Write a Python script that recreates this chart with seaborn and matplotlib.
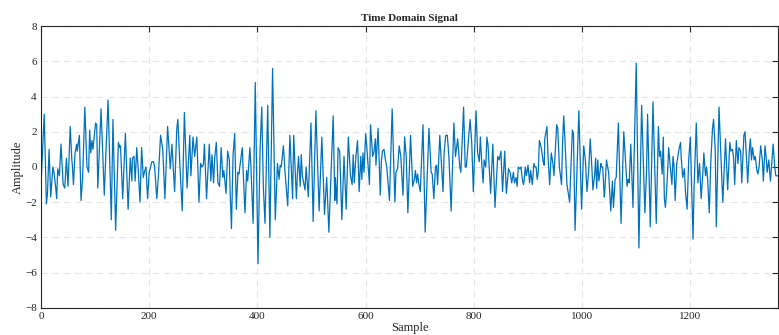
import numpy as np
import pandas as pd
import matplotlib
matplotlib.use("Agg")
import matplotlib.pyplot as plt
import seaborn as sns

# peaks / troughs (sample index, amplitude)
sample = [
    0, 6, 10, 12, 15, 18, 22, 24, 27, 29, 31, 34, 37, 41, 44, 47, 50, 54, 57, 58,
    60, 63, 66, 67, 71, 74, 77, 81, 85, 88, 90, 92, 94, 96, 101, 103, 105, 111,
    117, 120, 124, 130, 133, 138, 143, 146, 147, 151, 156, 161, 165, 168, 169, 172,
    174, 177, 180, 183, 186, 189, 191, 194, 197, 200, 205, 208, 210, 214, 217, 221, 225,
    229, 234, 239, 242, 247, 251, 253, 254, 257, 261, 265, 270, 275, 277, 281, 284,
    288, 289, 292, 295, 297, 300, 302, 306, 311, 314, 316, 319, 321, 324, 327, 330,
    333, 336, 338,
    342, 345, 348, 350, 352, 355, 358, 361, 364, 366, 367, 372, 374, 377, 380, 382,
    386, 388, 392, 396, 401, 405, 408, 411, 414, 419, 423, 428, 433, 437, 440, 442,
    444, 448, 451,
    456, 460, 465, 467, 472, 474, 476, 479, 481, 483, 488, 490, 494, 499, 503, 508,
    514, 519, 524, 528, 532, 540, 543, 544, 547, 549, 552, 556, 560, 564, 568,
    572, 575, 577, 579, 582, 585, 588, 591, 593, 595, 597, 600, 602, 607, 609, 613,
    615, 618, 619, 623, 627, 629, 631, 634, 636, 639, 644, 649, 654, 656, 659, 662,
    665, 669, 672, 675, 678, 683,
    687, 690, 692, 694, 696, 698, 701, 706, 710, 717, 721, 723, 726, 729, 731, 733,
    737, 740, 743, 745, 748, 751, 754, 758, 763, 766, 770, 774, 776, 781, 784, 786,
    793, 796, 799,
    804, 807, 810, 812, 815, 817, 819, 822, 824, 826, 831, 835, 839, 844, 847, 850,
    853, 857, 860, 864, 867, 870, 873, 875, 878, 880, 882, 885, 887, 890, 892, 895,
    897, 900, 903, 905, 908, 911, 913,
    915, 917, 919, 921, 923, 925, 928, 930, 931, 935, 937, 940, 943, 946, 948, 953,
    955, 958, 962, 964, 966, 968, 972, 973, 977, 980, 982, 984, 987, 994, 999, 1003,
    1006, 1009, 1012, 1015, 1018, 1020, 1023, 1025,
    1027, 1029, 1031, 1035, 1036, 1038, 1041, 1042, 1045, 1049, 1053, 1056, 1058,
    1061, 1063, 1067, 1072, 1077, 1079, 1083, 1085, 1087, 1090, 1094, 1100, 1105,
    1110, 1116, 1119, 1121, 1126, 1131, 1137, 1141,
    1143, 1145, 1148, 1150, 1152, 1154, 1157, 1160, 1163, 1166, 1168, 1170, 1172,
    1175, 1179, 1182, 1183, 1186, 1189, 1191, 1194, 1197, 1200, 1205, 1207, 1211,
    1214, 1217, 1220, 1223, 1225, 1228, 1230, 1232, 1235, 1238, 1241, 1243, 1246,
    1248, 1253, 1256,
    1260, 1265, 1269, 1273, 1275, 1278, 1280, 1282, 1285, 1288, 1290, 1293, 1295,
    1299, 1301, 1304, 1306, 1309, 1311, 1313, 1315, 1318, 1320, 1323, 1325, 1327,
    1330, 1333, 1335, 1338, 1340, 1342, 1345, 1348, 1350, 1353, 1356, 1358, 1362,
]
amplitude = [
    -1.1, 3.0, -2.1, -1.5, 1.0, -1.7, 0.0, -0.3, -1.1, -1.8, -0.1, -0.5, 1.3, -1.0, -1.2, 0.5, -1.1, 2.3, 0.4, 0.1,
    -1.0, 0.8, 1.3, 0.9, 1.8, -1.9, -0.6, 3.4, 0.0, -0.3, 2.1, 0.8, 1.5, 1.0, 2.5, 2.4, -1.2, 3.3,
    -1.6, 0.8, 3.8, -3.0, 2.7, -3.6, 1.4, 1.1, 1.2, -1.8, 1.9, -2.4, 0.5, -0.8, 0.5, 0.6,
    -0.8, 1.1, -0.3, -2.0, 1.1, -0.6, -0.3, 0.0, -1.8, -0.3, 0.3, 0.3, 0.0, -1.8, -0.5, 1.8, 1.0,
    -1.8, 2.3, -0.1, 1.3, -1.4, 2.2, 2.7, 2.0, -0.1, -2.5, 3.1, -1.2, 1.8, -0.5, 1.7, 0.6,
    1.7, 0.8, -2.0, 0.2, 0.0, 0.1, 1.3, -1.8, 1.3, -0.8, 0.7, -0.9, 0.5, 1.4, -0.9, -1.1,
    1.1, -0.6, -0.2,
    -1.5, 0.9, 0.4, -1.8, -3.5, 0.7, 1.9, -2.4, -0.3, -0.4, -0.1, 1.1, -0.5, -2.6, -0.2, -0.8,
    1.1, 0.0, -3.2, 4.8, -5.5, 1.1, 3.4, -1.2, -3.2, 3.5, -4.0, 5.6, -3.0, 0.2, -0.7, 0.1,
    0.0, 1.2, -0.3,
    -2.2, 1.8, -1.8, 1.8, -1.8, -0.3, 0.6, -1.1, 0.7, -0.5, -1.3, 0.0, -1.7, 2.5, -3.1, 3.2,
    -2.5, 1.7, -2.7, -0.6, -3.7, 2.9, -1.9, -0.6, -2.1, 1.1, 0.9, -3.0, 0.6, -2.4, 1.7,
    -0.5, -1.0, 0.7, -0.9, 0.6, 1.5, -1.4, 0.6, -0.7, 0.8, -0.3, 1.9, 1.2, -1.0, 2.4, 0.6,
    0.8, 1.6, 0.1, 2.2, -1.6, 0.3, 0.9, 1.0, 0.5, 0.0, -1.9, 3.3, -2.0, -0.3, -0.1, 1.2,
    0.6, -1.6, 1.7, 0.6, -2.6, 1.8,
    -1.1, -0.7, -0.2, -0.9, -0.4, -0.9, -1.4, 2.4, -3.7, 2.2, -0.3, -0.4, -1.8, 0.0, 0.1, -1.0,
    1.8, 0.2, -1.4, 0.8, 1.8, 1.8, 0.5, -2.5, 2.5, 0.6, 1.6, 0.0, -0.3, 3.4, 0.0, 0.0,
    2.7, 1.4, -1.4,
    3.2, 0.8, 0.3, 1.7, 0.0, -0.9, 0.4, 0.0, 1.7, 1.3, -1.5, 1.3, -2.3, 0.6, 0.4, 0.9,
    -1.4, 0.9, -1.5, -0.1, -0.3, -0.9, -0.3, -0.9, -0.6, -1.1, 0.0, -0.1, 0.0, -0.8, -1.0, 0.0,
    -0.5, 0.1, -0.9, -0.2, -1.0, 0.2, 0.0,
    0.0, -0.7, -0.3, 1.5, 1.3, 1.0, 0.3, 0.1, 1.6, 2.3, 0.6, -1.0, 0.8, 0.2, -0.5, 2.4,
    2.2, 0.0, -1.0, 1.5, 2.9, 1.7, -1.0, -1.2, -2.0, 0.4, 2.1, 1.9, -3.6, 3.2, -2.4, 1.2,
    0.4, -1.4, -0.3, 1.6, 0.0, -1.3, -0.5, 0.5,
    -1.2, 0.4, -0.8, 0.2, 0.0, 0.0, -1.7, -1.3, 0.4, -0.3, -2.5, -0.8, -2.3,
    -0.7, -0.6, 2.5, -3.2, 2.0, 1.0, -1.1, -0.7, -0.9, 1.3, -2.3, 5.9, -4.6,
    3.5, -2.6, -0.3, 3.0, -3.4, 3.7, -3.2, 2.3,
    0.6, 0.9, -0.4, 1.7, -1.8, -2.3, -0.9, 1.1, 0.0, -1.0, 0.6, 0.0, -1.9,
    0.2, 1.0, 1.4, 0.6, -0.6, -0.1, -1.4, -2.4, 0.4, 1.7, -4.1, -1.1, 2.5,
    -0.9, 0.2, -1.8, -0.4, 0.8, -0.5, 0.0, -0.7, -2.6, 0.4, 2.2, 2.7, 1.0,
    -3.4, 3.4, 1.0,
    -2.0, 1.6, -1.3, 1.4, 0.9, 1.0, 0.5, -1.0, 1.5, 0.2, 1.1, 0.9, -0.9,
    1.8, 2.0, 0.4, -0.9, 0.9, 1.6, 0.4, 1.1, 0.4, 0.6, -0.2, -0.4, 0.0,
    1.2, 0.4, -0.8, 1.2, 0.6, -0.3, 0.4, -0.8, 0.0, 1.3, 0.0, -0.5, -0.5,
]
xticks = [0, 200, 400, 600, 800, 1000, 1200]
yticks = [-8, -6, -4, -2, 0, 2, 4, 6, 8]

df = pd.DataFrame({"Sample": sample, "Amplitude": amplitude})

sns.set_style("white")
plt.rcParams["font.family"] = ["Liberation Serif", "DejaVu Serif"]

fig = plt.figure(figsize=(7.79, 3.35), dpi=100)
ax = fig.add_axes([0.0526, 0.081, 0.9461, 0.841])

sns.lineplot(data=df, x="Sample", y="Amplitude", ax=ax, color="#0072BD",
             linewidth=0.9, estimator=None, sort=False)

ax.set_xlim(0, 1362)
ax.set_ylim(-8, 8)
ax.set_xticks(xticks)
ax.set_yticks(yticks)
ax.grid(True, linestyle=(0, (6, 4)), color="#e6e6e6", linewidth=0.8)
ax.tick_params(direction="in", length=4, width=0.8, labelsize=8,
               top=True, right=True, colors="#262626", pad=3)
for sp in ax.spines.values():
    sp.set_color("#262626")
    sp.set_linewidth(0.8)

ax.set_title("Time Domain Signal", fontsize=8, fontweight="bold", pad=4)
ax.set_xlabel("Sample", fontsize=9, labelpad=1)
ax.set_ylabel("Amplitude", fontsize=9, labelpad=1)

fig.savefig("out.png", dpi=100)
